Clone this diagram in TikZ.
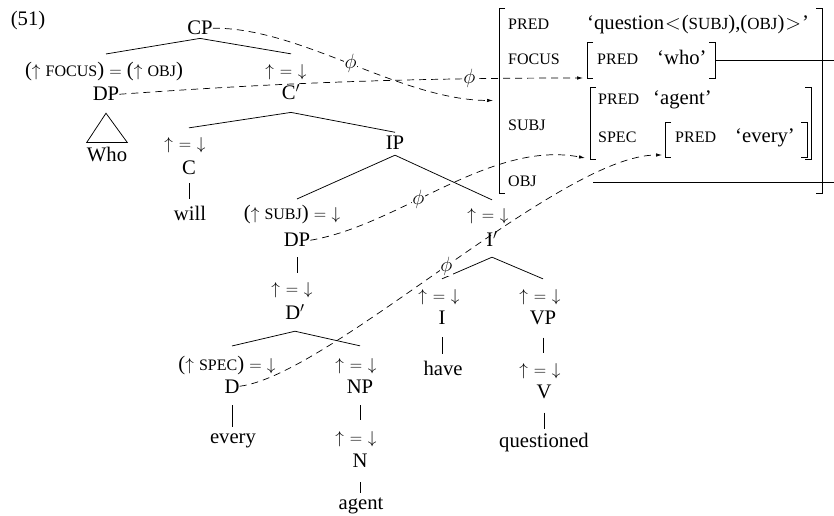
\documentclass[tikz,border=0pt]{standalone}
\usepackage{fontspec}
\setmainfont{Liberation Serif}
\usetikzlibrary{arrows.meta,calc}

% feature names in reduced capitals
\newcommand\fsc[1]{{\fontsize{16bp}{18bp}\selectfont #1}}
% functional annotation symbols
\newcommand\uarr{{\LARGE$\uparrow$}}
\newcommand\darr{{\LARGE$\downarrow$}}
\newcommand\eqsgn{{\LARGE$=$}}
\newcommand\ueqd{{\LARGE$\uparrow\mkern6mu=\mkern6mu\downarrow$}}
\newcommand\phisym{{\huge$\phi$}}

% square brackets around an attribute-value matrix node
\newcommand\fsbrk[1]{%
  \draw[brk] ([xshift=6bp]#1.north west) -- (#1.north west) -- (#1.south west) -- ([xshift=6bp]#1.south west);
  \draw[brk] ([xshift=-6bp]#1.north east) -- (#1.north east) -- (#1.south east) -- ([xshift=-6bp]#1.south east);}

\begin{document}
\begin{tikzpicture}[x=1bp,y=-1bp,font=\huge,
  txt/.style={inner sep=0pt,anchor=base},
  fl/.style={inner sep=0pt,anchor=base west},
  branch/.style={line width=0.75bp},
  corr/.style={line width=0.7bp,dash pattern=on 7bp off 5bp,-{Latex[length=6bp,width=3.5bp]}},
  phil/.style={fill=white,inner sep=0.5bp},
  fsbox/.style={draw=none,inner sep=0pt,outer sep=0pt},
  brk/.style={line width=0.9bp},
  share/.style={line width=0.9bp}]

\useasboundingbox (0,0) rectangle (834,516);

% ---------- c-structure ----------
\node[txt] (ex) at (28,26) {(51)};
\node[txt] (CP) at (200,35) {CP};
\node[txt] (aFocus) at (104,77) {(\uarr\ \fsc{FOCUS}) \eqsgn\ (\uarr\ \fsc{OBJ})};
\node[txt] (DP1) at (106,101) {DP};
\node[txt] (Who) at (107,162) {Who};
\node[txt] (aCbar) at (286,77) {\ueqd};
\node[txt] (Cbar) at (291,100) {C$'$};
\node[txt] (aC) at (185,150) {\ueqd};
\node[txt] (C) at (189,175) {C};
\node[txt] (will) at (190,221) {will};
\node[txt] (IP) at (395,150) {IP};
\node[txt] (aSubj) at (292,220) {(\uarr\ \fsc{SUBJ}) \eqsgn\ \darr};
\node[txt] (DP2) at (297,247) {DP};
\node[txt] (aDbar) at (292,295) {\ueqd};
\node[txt] (Dbar) at (295,320) {D$'$};
\node[txt] (aSpec) at (227,370) {(\uarr\ \fsc{SPEC}) \eqsgn\ \darr};
\node[txt] (D) at (232,393) {D};
\node[txt] (every) at (233,443) {every};
\node[txt] (aNP) at (356,370) {\ueqd};
\node[txt] (NP) at (360,393) {NP};
\node[txt] (aN) at (356,443) {\ueqd};
\node[txt] (N) at (360,467) {N};
\node[txt] (agent) at (361,509) {agent};
\node[txt] (aIbar) at (488,221) {\ueqd};
\node[txt] (Ibar) at (492,247) {I$'$};
\node[txt] (aI) at (439,302) {\ueqd};
\node[txt] (I) at (442,325) {I};
\node[txt] (have) at (443,375) {have};
\node[txt] (aVP) at (540,302) {\ueqd};
\node[txt] (VP) at (543,325) {VP};
\node[txt] (aV) at (540,375) {\ueqd};
\node[txt] (V) at (544,398) {V};
\node[txt] (questioned) at (544,447) {questioned};

% branches
\draw[branch] ($(CP.south)+(0,3)$) -- ($(aFocus.north -| DP1.south)+(0,-8.5)$);
\draw[branch] ($(CP.south)+(0,3)$) -- ($(aCbar.north -| Cbar.south)+(0,-11)$);
\draw[branch] ($(Cbar.south)+(0,12)$) -- ($(aC.north -| C.south)+(0,-10)$);
\draw[branch] ($(Cbar.south)+(0,12)$) -- ($(IP.north)+(0,-4)$);
\draw[branch] ($(IP.south)+(0,5)$) -- ($(aSubj.north -| DP2.south)+(0,-6.5)$);
\draw[branch] ($(IP.south)+(0,5)$) -- ($(aIbar.north -| Ibar.south)+(0,-9)$);
\draw[branch] ($(Ibar.south)+(0,10)$) -- ($(aI.north -| I.south)+(0,-11)$);
\draw[branch] ($(Ibar.south)+(0,10)$) -- ($(aVP.north -| VP.south)+(0,-11)$);
\draw[branch] ($(Dbar.south)+(0,11)$) -- ($(aSpec.north -| D.south)+(0,-9.5)$);
\draw[branch] ($(Dbar.south)+(0,11)$) -- ($(aNP.north -| NP.south)+(0,-12)$);
\draw[branch] ($(C.south)+(0,8)$) -- ($(will.north -| C.south)+(0,-7)$);
\draw[branch] ($(DP2.south)+(0,10)$) -- ($(aDbar.north -| DP2.south)+(0,-10)$);
\draw[branch] ($(D.south)+(0,12)$) -- ($(every.north -| D.south)+(0,-6.5)$);
\draw[branch] ($(NP.south)+(0,12)$) -- ($(aN.north -| NP.south)+(0,-11)$);
\draw[branch] ($(N.south)+(0,15)$) -- ($(agent.north -| N.south)+(0,-4)$);
\draw[branch] ($(I.south)+(0,12)$) -- ($(have.north -| I.south)+(0,-6)$);
\draw[branch] ($(VP.south)+(0,12)$) -- ($(aV.north -| VP.south)+(0,-10)$);
\draw[branch] ($(V.south)+(0,14)$) -- ($(questioned.north -| V.south)+(0,-3)$);

% triangle over the unanalysed phrase
\draw[branch] ($(DP1.south)+(0,12)$) -- ($(Who.north west)+(0,-5)$) -- ($(Who.north east)+(0,-5)$) -- cycle;

% ---------- f-structure ----------
\node[fsbox,minimum width=323bp,minimum height=185bp] (fOuter) at (660.5,100.5) {};
\node[fsbox,minimum width=128bp,minimum height=36bp] (fWho) at (651,60) {};
\node[fsbox,minimum width=221bp,minimum height=72bp] (fSubj) at (700.5,123) {};
\node[fsbox,minimum width=142bp,minimum height=35bp] (fEvery) at (736,139.5) {};
\fsbrk{fOuter}
\fsbrk{fWho}
\fsbrk{fSubj}
\fsbrk{fEvery}

\node[fl] (fPredL) at (508,30) {\fsc{PRED}};
\node[fl] (fPredV) at (587,30) {`question\kern1bp$<$\kern1bp({\fontsize{17bp}{18bp}\selectfont SUBJ}),({\fontsize{17bp}{18bp}\selectfont OBJ})\kern1bp$>$\kern1bp'};
\node[fl] (fFocL) at (508,65) {\fsc{FOCUS}};
\node[fl] (whoPred) at (597,65) {\fsc{PRED}};
\node[fl] (whoVal) at (657,65) {`who'};
\node[fl] (fSubjL) at (508,131) {\fsc{SUBJ}};
\node[fl] (agPred) at (598,105) {\fsc{PRED}};
\node[fl] (agVal) at (653,105) {`agent'};
\node[fl] (specL) at (598,143) {\fsc{SPEC}};
\node[fl] (evPred) at (675,143) {\fsc{PRED}};
\node[fl] (evVal) at (735,143) {`every'};
\node[fl] (fObjL) at (508,187) {\fsc{OBJ}};

% structure-sharing lines running off to the right
\coordinate (edgeA) at (834,60);
\coordinate (objV) at (593,182);
\coordinate (edgeB) at (834,182);
\draw[share] (fWho.east) -- (edgeA);
\draw[share] (objV) -- (edgeB);

% ---------- phi correspondences ----------
\coordinate (tOuter) at ($(fOuter.west)+(-6,0)$);
\coordinate (tWho) at ($(fWho.south west)+(-4,0)$);
\coordinate (tSubj) at ($(fSubj.south west)+(-5,-1)$);
\coordinate (tEvery) at ($(fEvery.south west)+(-3,-2)$);

\draw[corr] (CP.east) .. controls (300,27) and (400,100) .. (tOuter) node[phil,pos=0.5] {\phisym};
\draw[corr] (DP1.east) .. controls (250,85) and (380,78) .. (tWho) node[phil,pos=0.8] {\phisym};
\draw[corr] (DP2.east) .. controls (400,225) and (490,140) .. (tSubj) node[phil,pos=0.4] {\phisym};
\draw[corr] (D.east) .. controls (330,375) and (560,155) .. (tEvery) node[phil,pos=0.5] {\phisym};
\end{tikzpicture}
\end{document}
